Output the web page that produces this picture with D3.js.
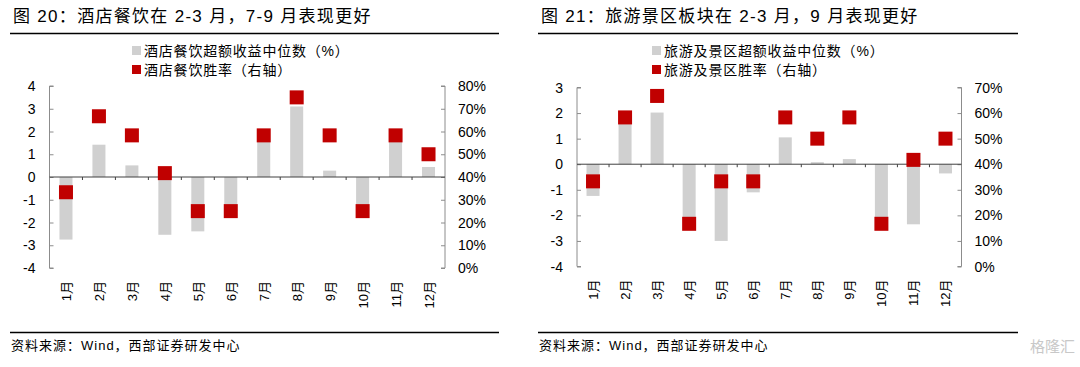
<!DOCTYPE html>
<html>
<head>
<meta charset="utf-8">
<script src="https://cdn.jsdelivr.net/npm/d3@7"></script>
<style>
body{margin:0;background:#fff;}
svg text{font-family:"Liberation Sans","Noto Sans CJK SC",Arial,sans-serif;fill:#000;}
</style>
</head>
<body>
<svg width="1080" height="367"></svg>
<script>
var months=['1月','2月','3月','4月','5月','6月','7月','8月','9月','10月','11月','12月'];

// 酒店餐饮
var hotelExcess=[-2.75,1.42,0.51,-2.54,-2.39,-1.5,1.55,3.1,0.28,-1.5,1.55,0.44];
var hotelWin=[33.3,66.7,58.3,41.7,25,25,58.3,75,58.3,25,58.3,50];
var hotelLeftTicks=[4,3,2,1,0,-1,-2,-3,-4];
var hotelRightTicks=[0,10,20,30,40,50,60,70,80];

// 旅游及景区
var travelExcess=[-1.24,1.6,2.02,-2.2,-3.0,-1.1,1.05,0.08,0.2,-2.1,-2.35,-0.36];
var travelWin=[33.3,58.3,66.7,16.7,33.3,33.3,58.3,50,58.3,16.7,41.7,50];
var travelLeftTicks=[3,2,1,0,-1,-2,-3,-4];
var travelRightTicks=[0,10,20,30,40,50,60,70];

var barColor='#d0d0d0';
var redColor='#c00000';
var axisColor='#8c8c8c';

var svg=d3.select('svg');

function drawPanel(p){
    var g=svg.append('g');

    // title + rules
    g.append('text')
    .attr('x',p.left+3).attr('y',22)
    .style('font-size','17px').style('letter-spacing','1.3px')
    .text(p.title);
    g.append('line').attr('x1',p.left).attr('x2',p.right).attr('y1',33.5).attr('y2',33.5)
    .attr('stroke','#000').attr('stroke-width',1.3);
    g.append('line').attr('x1',p.left).attr('x2',p.right).attr('y1',332.5).attr('y2',332.5)
    .attr('stroke','#000').attr('stroke-width',1.3);
    g.append('text')
    .attr('x',p.left+1).attr('y',350)
    .style('font-size','13px').style('letter-spacing','1px')
    .text('资料来源：Wind，西部证券研发中心');

    // legend
    var legs=[[barColor,p.leg1],[redColor,p.leg2]];
    legs.forEach(function(l,i){
        g.append('rect').attr('x',p.legX).attr('y',46+i*19).attr('width',9).attr('height',9).attr('fill',l[0]);
        g.append('text').attr('x',p.legX+12).attr('y',56+i*19)
        .style('font-size','14px').style('letter-spacing','0.8px').text(l[1]);
    });

    var x=d3.scaleBand().domain(months).range([p.x0,p.x1]);
    var yL=d3.scaleLinear().domain(p.yDom).range([p.yBottom,p.yTop]);
    var yR=d3.scaleLinear().domain(p.rDom).range([p.yBottom,p.yTop]);

    // left axis
    var la=g.append('g').attr('transform','translate('+p.x0+',0)')
    .call(d3.axisRight(yL).tickValues(p.lTicks).tickSize(4).tickFormat(''));
    la.selectAll('path,line').attr('stroke',axisColor);
    la.select('.domain').attr('d','M4,'+p.yTop+'H0V'+p.yBottom+'H4');
    p.lTicks.forEach(function(t){
        g.append('text').attr('x',p.x0-14).attr('y',yL(t)+5)
        .attr('text-anchor','end').style('font-size','14px').text(t);
    });

    // right axis
    var ra=g.append('g').attr('transform','translate('+p.x1+',0)')
    .call(d3.axisLeft(yR).tickValues(p.rTicks).tickSize(4).tickFormat(''));
    ra.selectAll('path,line').attr('stroke',axisColor);
    ra.select('.domain').attr('d','M-4,'+p.yTop+'H0V'+p.yBottom+'H-4');
    p.rTicks.forEach(function(t){
        g.append('text').attr('x',p.x1+13).attr('y',yR(t)+5)
        .style('font-size','14px').text(t+'%');
    });

    // bars
    g.selectAll('.bar').data(p.bars).enter().append('rect')
    .attr('x',function(d,i){return x(months[i])+x.bandwidth()/2-6.5;})
    .attr('width',13)
    .attr('y',function(d){return Math.min(yL(d),yL(0));})
    .attr('height',function(d){return Math.abs(yL(d)-yL(0));})
    .attr('fill',barColor);

    // zero line with category ticks
    g.append('line').attr('x1',p.x0).attr('x2',p.x1).attr('y1',yL(0)).attr('y2',yL(0))
    .attr('stroke','#404040').attr('stroke-width',1);
    months.forEach(function(m,i){
        if(i==0) return;
        g.append('line').attr('x1',x(m)).attr('x2',x(m)).attr('y1',yL(0)).attr('y2',yL(0)+3)
        .attr('stroke','#404040');
    });

    // win rate squares
    g.selectAll('.sq').data(p.win).enter().append('rect')
    .attr('x',function(d,i){return x(months[i])+x.bandwidth()/2-7;})
    .attr('y',function(d){return yR(d)-7;})
    .attr('width',14).attr('height',14)
    .attr('fill',redColor);

    // month labels
    months.forEach(function(m){
        g.append('text')
        .attr('transform','translate('+(x(m)+x.bandwidth()/2+5)+','+(p.yBottom+13)+') rotate(-90)')
        .attr('text-anchor','end').style('font-size','13px').text(m);
    });
}

drawPanel({
    left:10,right:499,
    title:'图 20：酒店餐饮在 2-3 月，7-9 月表现更好',
    leg1:'酒店餐饮超额收益中位数（%）',leg2:'酒店餐饮胜率（右轴）',legX:132,
    x0:49.5,x1:445,yTop:86,yBottom:268,
    yDom:[-4,4],rDom:[0,80],
    lTicks:hotelLeftTicks,rTicks:hotelRightTicks,
    bars:hotelExcess,win:hotelWin
});

drawPanel({
    left:538,right:1018,
    title:'图 21：旅游景区板块在 2-3 月，9 月表现更好',
    leg1:'旅游及景区超额收益中位数（%）',leg2:'旅游及景区胜率（右轴）',legX:652,
    x0:577,x1:961.5,yTop:87.5,yBottom:266.5,
    yDom:[-4,3],rDom:[0,70],
    lTicks:travelLeftTicks,rTicks:travelRightTicks,
    bars:travelExcess,win:travelWin
});

// watermark
svg.append('text').attr('x',1075).attr('y',352).attr('text-anchor','end')
.style('font-size','15px').style('fill','#c8c8c8').text('格隆汇');
</script>
</body>
</html>
